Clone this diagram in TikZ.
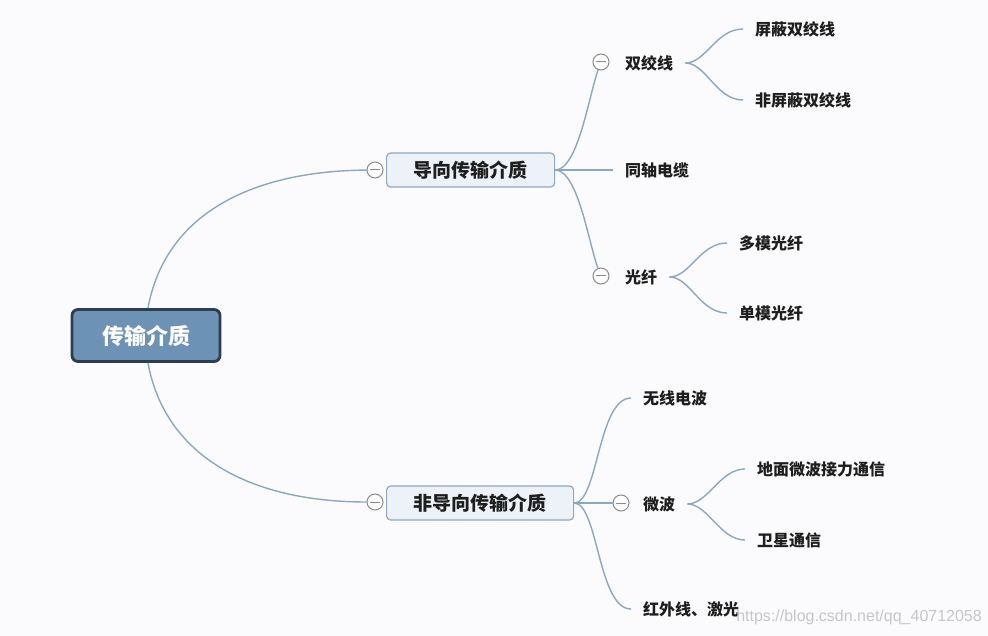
\documentclass[tikz,border=0pt]{standalone}
\usepackage{fontspec}
\usepackage{tikz}
\newfontfamily\cjk{Noto Sans CJK SC}
\newfontfamily\wmfont{Liberation Sans}
\definecolor{bgcol}{HTML}{FBFBFD}
\definecolor{rootfill}{HTML}{6C93B6}
\definecolor{rootline}{HTML}{2D3E4F}
\definecolor{boxfill}{HTML}{EDF2F8}
\definecolor{boxline}{HTML}{8DA9C4}
\definecolor{linkcol}{HTML}{8CA7C1}
\definecolor{foldcol}{HTML}{8C8C8C}
\definecolor{textcol}{HTML}{1E1E1E}
\tikzset{
    rootbox/.style={rectangle, rounded corners=6pt, draw=rootline, fill=rootfill,
    	line width=2.8pt, minimum height=52pt, inner xsep=30pt, text=white,
    	font=\cjk\bfseries\fontsize{22}{24}\selectfont},
    topicbox/.style={rectangle, rounded corners=4pt, draw=boxline, fill=boxfill,
    	line width=1.2pt, minimum height=34pt, inner xsep=27pt, text=textcol,
    	anchor=west, font=\cjk\bfseries\fontsize{19}{21}\selectfont},
    leaf/.style={inner xsep=12pt, inner ysep=2pt, text=textcol, anchor=west,
    	font=\cjk\bfseries\fontsize{16}{18}\selectfont}
}
\tikzset{
    fold/.style={circle, draw=foldcol, fill=white, line width=1pt,
    	minimum size=16pt, inner sep=0pt,
    	path picture={\draw[foldcol, line width=1pt]
    		([xshift=-5pt]path picture bounding box.center) --
    		([xshift=5pt]path picture bounding box.center);}}
}
\tikzset{
    link/.style={draw=linkcol, line width=1.4pt}
}

\begin{document}
\begin{tikzpicture}[x=1pt,y=-1pt]
	\path[use as bounding box, fill=bgcol] (0,0) rectangle (988,636);

	\node (root) [rootbox] at (146,335.5) {传输介质};
	\node (fA) [fold] at (375,170) {};
	\node (A) [topicbox] at (386,170) {导向传输介质};
	\node (fB) [fold] at (375,502) {};
	\node (B) [topicbox] at (386,503) {非导向传输介质};

	% guided media
	\node (f1) [fold] at (601,62) {};
	\node (sjx) [leaf] at (613,63) {双绞线};
	\node (pb) [leaf] at (743,29) {屏蔽双绞线};
	\node (fpb) [leaf] at (743,100) {非屏蔽双绞线};
	\node (tz) [leaf] at (613,170) {同轴电缆};
	\node (f2) [fold] at (601,276) {};
	\node (gx) [leaf] at (613,277) {光纤};
	\node (dm) [leaf] at (727,243) {多模光纤};
	\node (sm) [leaf] at (727,313) {单模光纤};

	% unguided media
	\node (wx) [leaf] at (631,398) {无线电波};
	\node (f3) [fold] at (621,503) {};
	\node (wb) [leaf] at (631,504) {微波};
	\node (dmwb) [leaf] at (745,469) {地面微波接力通信};
	\node (wxtx) [leaf] at (745,540) {卫星通信};
	\node (hw) [leaf] at (631,609) {红外线、激光};

	\draw[link] ([xshift=2pt]root.north) .. controls (165,215) and (250,171) .. (fA);
	\draw[link] ([xshift=2pt]root.south) .. controls (165,456) and (250,502) .. (fB);

	\draw[link] (A.east) .. controls (578,170) and (589,95) .. (f1);
	\draw[link] (A.east) -- (tz.west);
	\draw[link] (A.east) .. controls (578,170) and (589,245) .. (f2);
	\draw[link] (sjx.east) .. controls (706,63) and (716,29) .. (pb.west);
	\draw[link] (sjx.east) .. controls (706,63) and (716,100) .. (fpb.west);
	\draw[link] (gx.east) .. controls (690,277) and (700,243) .. (dm.west);
	\draw[link] (gx.east) .. controls (690,277) and (700,313) .. (sm.west);

	\draw[link] (B.east) .. controls (598,503) and (598,398) .. (wx.west);
	\draw[link] (B.east) -- (f3);
	\draw[link] (B.east) .. controls (598,503) and (598,609) .. (hw.west);
	\draw[link] (wb.east) .. controls (708,504) and (720,469) .. (dmwb.west);
	\draw[link] (wb.east) .. controls (708,504) and (720,540) .. (wxtx.west);

	\node (mark) [anchor=east, inner sep=0pt, text=gray!45,
		font=\wmfont\fontsize{16}{18}\selectfont] at (982,617)
		{https://blog.csdn.net/qq\_40712058};
\end{tikzpicture}
\end{document}
